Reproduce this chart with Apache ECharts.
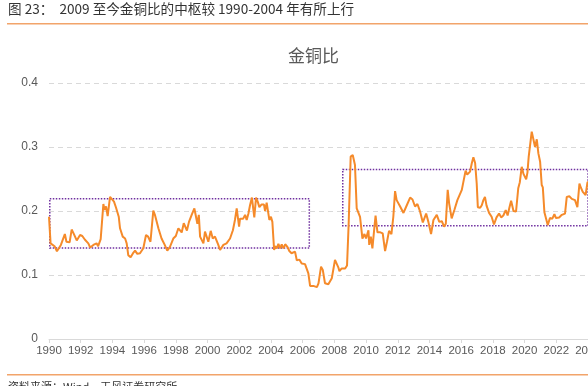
<!DOCTYPE html>
<html><head><meta charset="utf-8">
<script src="https://cdn.jsdelivr.net/npm/echarts@6/dist/echarts.min.js"></script>
<style>html,body{margin:0;padding:0;background:#fff}#c{width:588px;height:386px}</style>
</head><body><div id="c"></div>
<script>
const headerText = '图 23：  2009 至今金铜比的中枢较 1990-2004 年有所上行';
const chartTitle = '金铜比';
const sourceText = '资料来源：Wind，天风证券研究所';
const yTicks = [0, 0.1, 0.2, 0.3, 0.4];
const years = [1990.0,1990.1,1990.2,1990.35,1990.5,1990.6,1990.75,1990.85,1991.0,1991.1,1991.3,1991.43,1991.55,1991.75,1991.96,1992.1,1992.27,1992.48,1992.6,1992.8,1993.0,1993.1,1993.26,1993.43,1993.5,1993.6,1993.7,1993.85,1993.96,1994.1,1994.23,1994.3,1994.4,1994.48,1994.65,1994.8,1994.9,1995.0,1995.15,1995.3,1995.43,1995.57,1995.74,1995.95,1996.12,1996.25,1996.4,1996.58,1996.68,1996.8,1996.9,1997.0,1997.1,1997.3,1997.46,1997.63,1997.84,1998.0,1998.16,1998.37,1998.5,1998.7,1998.83,1999.0,1999.17,1999.27,1999.36,1999.45,1999.53,1999.65,1999.74,1999.84,1999.95,2000.05,2000.2,2000.33,2000.47,2000.58,2000.68,2000.79,2001.0,2001.2,2001.42,2001.6,2001.73,2001.84,2001.92,2001.99,2002.05,2002.15,2002.25,2002.37,2002.47,2002.58,2002.68,2002.8,2002.88,2002.95,2003.06,2003.16,2003.27,2003.4,2003.56,2003.63,2003.73,2003.83,2003.9,2004.0,2004.09,2004.2,2004.27,2004.37,2004.47,2004.58,2004.68,2004.79,2004.9,2005.04,2005.16,2005.3,2005.52,2005.63,2005.8,2005.94,2006.15,2006.25,2006.36,2006.47,2006.67,2006.9,2007.0,2007.16,2007.27,2007.41,2007.62,2007.84,2008.04,2008.1,2008.25,2008.32,2008.45,2008.68,2008.8,2008.9,2009.03,2009.16,2009.3,2009.41,2009.5,2009.62,2009.77,2009.9,2010.0,2010.15,2010.2,2010.3,2010.4,2010.53,2010.6,2010.72,2010.9,2011.05,2011.2,2011.32,2011.45,2011.6,2011.72,2011.83,2011.93,2012.03,2012.15,2012.36,2012.57,2012.78,2012.93,2013.09,2013.24,2013.41,2013.58,2013.79,2013.93,2014.1,2014.25,2014.46,2014.62,2014.78,2014.92,2015.03,2015.15,2015.24,2015.4,2015.57,2015.76,2015.88,2016.04,2016.15,2016.28,2016.38,2016.56,2016.67,2016.77,2016.88,2016.98,2017.05,2017.2,2017.3,2017.4,2017.5,2017.6,2017.76,2017.92,2018.07,2018.23,2018.39,2018.52,2018.66,2018.81,2018.93,2019.04,2019.15,2019.3,2019.46,2019.6,2019.7,2019.82,2019.93,2020.1,2020.18,2020.26,2020.35,2020.45,2020.56,2020.66,2020.77,2020.87,2020.98,2021.08,2021.15,2021.25,2021.35,2021.46,2021.6,2021.75,2021.88,2021.98,2022.18,2022.35,2022.55,2022.66,2022.82,2022.98,2023.18,2023.33,2023.46,2023.56,2023.67,2023.85,2023.96,2024.0];
const ratio = [0.191,0.1495,0.152,0.145,0.137,0.136,0.147,0.15,0.164,0.152,0.151,0.171,0.165,0.154,0.1625,0.161,0.155,0.1495,0.143,0.147,0.1495,0.145,0.156,0.211,0.202,0.207,0.192,0.222,0.225,0.2146,0.205,0.207,0.191,0.173,0.16,0.157,0.1495,0.131,0.1276,0.134,0.138,0.133,0.134,0.1417,0.1625,0.16,0.152,0.2005,0.194,0.196,0.173,0.174,0.157,0.147,0.138,0.144,0.157,0.161,0.173,0.1665,0.181,0.1695,0.183,0.194,0.204,0.202,0.18,0.194,0.16,0.157,0.1495,0.1677,0.169,0.152,0.169,0.157,0.16,0.161,0.147,0.139,0.147,0.1495,0.157,0.17,0.186,0.204,0.204,0.1755,0.188,0.186,0.188,0.194,0.186,0.196,0.209,0.221,0.204,0.19,0.221,0.215,0.206,0.21,0.21,0.2,0.213,0.215,0.186,0.191,0.183,0.139,0.145,0.1417,0.1485,0.1417,0.148,0.1417,0.148,0.144,0.1375,0.134,0.1365,0.123,0.124,0.118,0.117,0.117,0.1026,0.083,0.083,0.081,0.087,0.113,0.108,0.087,0.0855,0.095,0.1235,0.126,0.112,0.106,0.11,0.11,0.115,0.178,0.285,0.2875,0.272,0.204,0.203,0.191,0.157,0.164,0.157,0.17,0.147,0.16,0.1417,0.1755,0.1927,0.1667,0.1667,0.165,0.1375,0.152,0.169,0.164,0.191,0.231,0.217,0.22,0.207,0.197,0.209,0.221,0.218,0.207,0.211,0.199,0.182,0.196,0.183,0.164,0.186,0.194,0.183,0.184,0.1755,0.18,0.233,0.212,0.1885,0.2015,0.217,0.218,0.233,0.233,0.263,0.257,0.2615,0.2745,0.284,0.275,0.243,0.206,0.205,0.209,0.217,0.222,0.2085,0.197,0.191,0.179,0.19,0.196,0.19,0.193,0.2015,0.193,0.205,0.216,0.2,0.199,0.2355,0.245,0.269,0.258,0.2495,0.26,0.285,0.287,0.324,0.3255,0.3,0.312,0.29,0.277,0.2406,0.237,0.198,0.195,0.178,0.189,0.188,0.195,0.189,0.19,0.194,0.196,0.222,0.223,0.219,0.217,0.206,0.243,0.236,0.23,0.225,0.244,0.246];
// Box bounds: [x1, y1, x2, y2]
const box1 = [1990.05, 0.2192, 2006.42, 0.142];
const box2 = [2008.53, 0.265, 2026, 0.177];

const chart = echarts.init(document.getElementById('c'));
const data = years.map((y, i) => [y, ratio[i]]);
chart.setOption({
  animation: false,
  backgroundColor: '#fff',
  title: {
    text: chartTitle, left: 283, top: 42,
    textStyle: { fontSize: 17, fontWeight: 'normal', color: '#595959', fontFamily: 'Noto Sans CJK SC' }
  },
  graphic: [
    { type: 'text', left: 8, top: 2, style: { text: headerText, fontSize: 13.6, fill: '#333', fontFamily: 'Noto Sans CJK SC' } },
    { type: 'rect', shape: { x: 7, y: 23, width: 581, height: 1.5 }, style: { fill: '#F2A46A' } },
    { type: 'rect', shape: { x: 7, y: 374, width: 581, height: 1.5 }, style: { fill: '#F2A46A' } },
    { type: 'text', left: 8, top: 381, style: { text: sourceText, fontSize: 11, fill: '#333', fontFamily: 'Noto Sans CJK SC' } }
  ],
  grid: { left: 49, right: 0, top: 83, bottom: 47, outerBoundsMode: 'none', containLabel: false },
  xAxis: {
    type: 'value', min: 1990, max: 2024, interval: 2,
    axisLine: { show: true, lineStyle: { color: '#d9d9d9' } },
    axisTick: { show: true, length: 4, lineStyle: { color: '#d9d9d9' } },
    axisLabel: { color: '#595959', fontSize: 11.5, margin: 6, showMaxLabel: true, fontFamily: 'Liberation Sans', formatter: v => String(v) },
    splitLine: { show: false }
  },
  yAxis: {
    type: 'value', min: 0, max: 0.4, interval: 0.1,
    axisLine: { show: false }, axisTick: { show: false },
    axisLabel: { color: '#595959', fontSize: 12, margin: 11, fontFamily: 'Liberation Sans' },
    splitLine: { lineStyle: { color: '#d9d9d9', type: [5, 4] } }
  },
  series: [{
    type: 'line', data: data, showSymbol: false, smooth: false,
    lineStyle: { color: '#F58A2A', width: 2 },
    markArea: {
      silent: true,
      itemStyle: { color: 'rgba(0,0,0,0)', borderColor: '#7030A0', borderWidth: 1.5, borderType: 'dotted' },
      data: [
        [{ coord: [box1[0], box1[1]] }, { coord: [box1[2], box1[3]] }],
        [{ coord: [box2[0], box2[1]] }, { coord: [box2[2], box2[3]] }]
      ]
    }
  }]
});
</script></body></html>
